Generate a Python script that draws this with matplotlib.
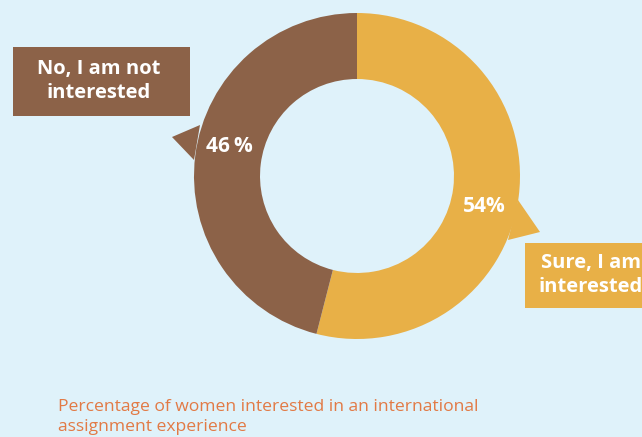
import matplotlib
matplotlib.use("Agg")
import matplotlib.pyplot as plt
from matplotlib.patches import Polygon, Rectangle

labels = ["Sure, I am\ninterested", "No, I am not\ninterested"]
shares = [54, 46]
colors = ["#e8b047", "#8c6248"]
caption = "Percentage of women interested in an international\nassignment experience"

plt.rcParams["font.family"] = ["Open Sans", "DejaVu Sans"]

W, H = 642, 437
fig = plt.figure(figsize=(W / 100, H / 100), dpi=100)
bg = "#dff2fa"
fig.patch.set_facecolor(bg)
ax = fig.add_axes([0, 0, 1, 1])
ax.set_facecolor(bg)

cx, cy, r = 357, H - 176, 163
ax.pie(shares, colors=colors, startangle=90, counterclock=False,
       center=(cx, cy), radius=r, frame=True,
       wedgeprops=dict(width=r * 0.405, linewidth=0))

# callout pointers
ax.add_patch(Polygon([(200, H - 125), (172, H - 137), (194, H - 160)],
                     closed=True, color=colors[1], lw=0))
ax.add_patch(Polygon([(518, H - 200), (540, H - 232), (508, H - 240)],
                     closed=True, color=colors[0], lw=0))

# label boxes
ax.add_patch(Rectangle((13, H - 116), 177, 69, color=colors[1], lw=0))
ax.text(99, H - 81, labels[1], ha="center", va="center", color="white",
        fontsize=14.5, fontweight="bold", linespacing=1.3)
ax.add_patch(Rectangle((525, H - 308), 130, 65, color=colors[0], lw=0))
ax.text(591, H - 275, labels[0], ha="center", va="center", color="white",
        fontsize=14.5, fontweight="bold", linespacing=1.3)

# percentages
ax.text(229, H - 146, f"{shares[1]}\u2009%", ha="center", va="center",
        color="white", fontsize=15, fontweight="bold")
ax.text(484, H - 207, f"{shares[0]}%", ha="center", va="center",
        color="white", fontsize=15, fontweight="bold")

ax.text(58, H - 417, caption, ha="left", va="center", color="#e27a45",
        fontsize=12.6, linespacing=1.4)

ax.set_xlim(0, W)
ax.set_ylim(0, H)
ax.set_aspect("auto")
ax.axis("off")

fig.savefig("out.png", dpi=100, facecolor=bg)
